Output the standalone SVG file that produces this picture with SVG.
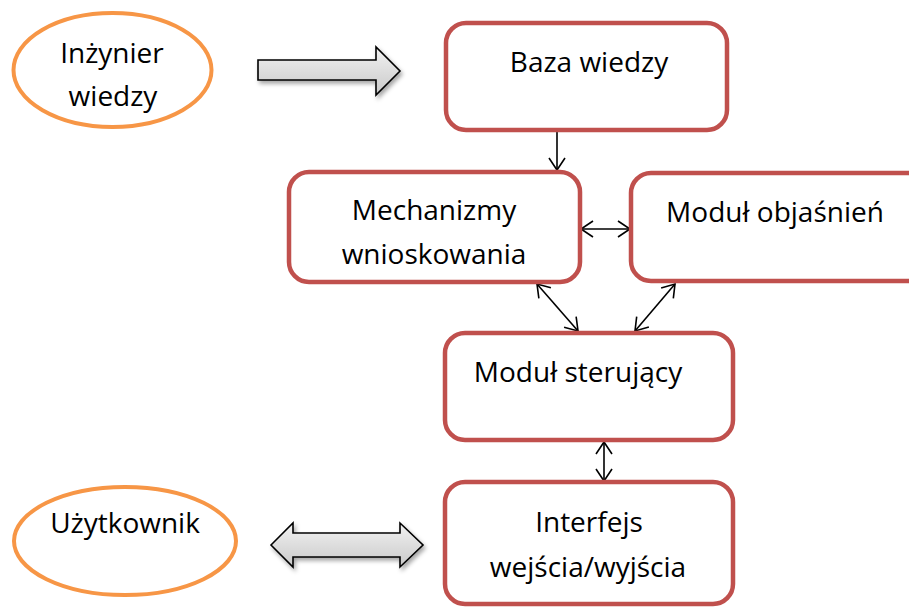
<svg xmlns="http://www.w3.org/2000/svg" width="909" height="607" viewBox="0 0 909 607">
  <style>
    .box { fill: #ffffff; stroke: #C0504D; stroke-width: 4.5; }
    .oval { fill: #ffffff; stroke: #F79646; stroke-width: 4; }
    .lbl { font-family: "Open Sans", "Liberation Sans", sans-serif; font-size: 28px; fill: #000000; text-anchor: middle; }
    .link { fill: none; stroke: #000000; stroke-width: 1.6; }
    .big { fill: url(#grayFill); stroke: #000000; stroke-width: 1.6; stroke-linejoin: miter; filter: url(#shadow); }
  </style>
  <defs>
    <linearGradient id="grayFill" x1="0" y1="0" x2="0" y2="1">
      <stop offset="0" stop-color="#f2f2f2"/>
      <stop offset="1" stop-color="#c9c9c9"/>
    </linearGradient>
    <filter id="shadow" x="-20%" y="-40%" width="140%" height="180%">
      <feDropShadow dx="2" dy="3" stdDeviation="2" flood-color="#000000" flood-opacity="0.35"/>
    </filter>
    <marker id="head" markerUnits="userSpaceOnUse" markerWidth="16" markerHeight="20" viewBox="-14 -9 16 18" refX="0" refY="0" orient="auto-start-reverse">
      <path d="M-12,-8 L0,0 L-12,8" fill="none" stroke="#000000" stroke-width="1.6"/>
    </marker>
  </defs>

  <!-- connectors -->
  <g id="connectors">
    <!-- block arrows -->
    <path class="big" d="M258,60 L376,60 L376,47 L400,71 L376,95 L376,80 L258,80 Z"/>
    <path class="big" d="M271,545 L293,523 L293,533 L400,533 L400,523 L423,545 L400,567 L400,557 L293,557 L293,567 Z"/>
    <!-- thin arrows -->
    <line class="link" x1="557" y1="131" x2="557" y2="170" marker-end="url(#head)"/>
    <line class="link" x1="581" y1="229" x2="630" y2="229" marker-start="url(#head)" marker-end="url(#head)"/>
    <line class="link" x1="537" y1="284" x2="578" y2="331" marker-start="url(#head)" marker-end="url(#head)"/>
    <line class="link" x1="675" y1="284" x2="635" y2="331" marker-start="url(#head)" marker-end="url(#head)"/>
    <line class="link" x1="604" y1="442" x2="604" y2="481" marker-start="url(#head)" marker-end="url(#head)"/>
  </g>

  <g id="inzynier">
    <ellipse class="oval" cx="112.5" cy="70" rx="99" ry="57"/>
    <text class="lbl" x="112" y="63">Inżynier</text>
    <text class="lbl" x="113" y="106">wiedzy</text>
  </g>

  <g id="baza">
    <rect class="box" x="446" y="23" width="281" height="107" rx="20"/>
    <text class="lbl" x="589" y="72">Baza wiedzy</text>
  </g>

  <g id="mechanizmy">
    <rect class="box" x="289" y="172" width="291" height="110" rx="20"/>
    <text class="lbl" x="434" y="220">Mechanizmy</text>
    <text class="lbl" x="434" y="264">wnioskowania</text>
  </g>

  <g id="objasnien">
    <rect class="box" x="631" y="173" width="300" height="108" rx="20"/>
    <text class="lbl" x="775" y="222">Moduł objaśnień</text>
  </g>

  <g id="sterujacy">
    <rect class="box" x="445" y="333" width="288" height="107" rx="20"/>
    <text class="lbl" x="578" y="382">Moduł sterujący</text>
  </g>

  <g id="interfejs">
    <rect class="box" x="445" y="482" width="288" height="122" rx="20"/>
    <text class="lbl" x="589" y="532">Interfejs</text>
    <text class="lbl" x="588" y="577">wejścia/wyjścia</text>
  </g>

  <g id="uzytkownik">
    <ellipse class="oval" cx="125" cy="541" rx="111" ry="54"/>
    <text class="lbl" x="125" y="533">Użytkownik</text>
  </g>
</svg>
